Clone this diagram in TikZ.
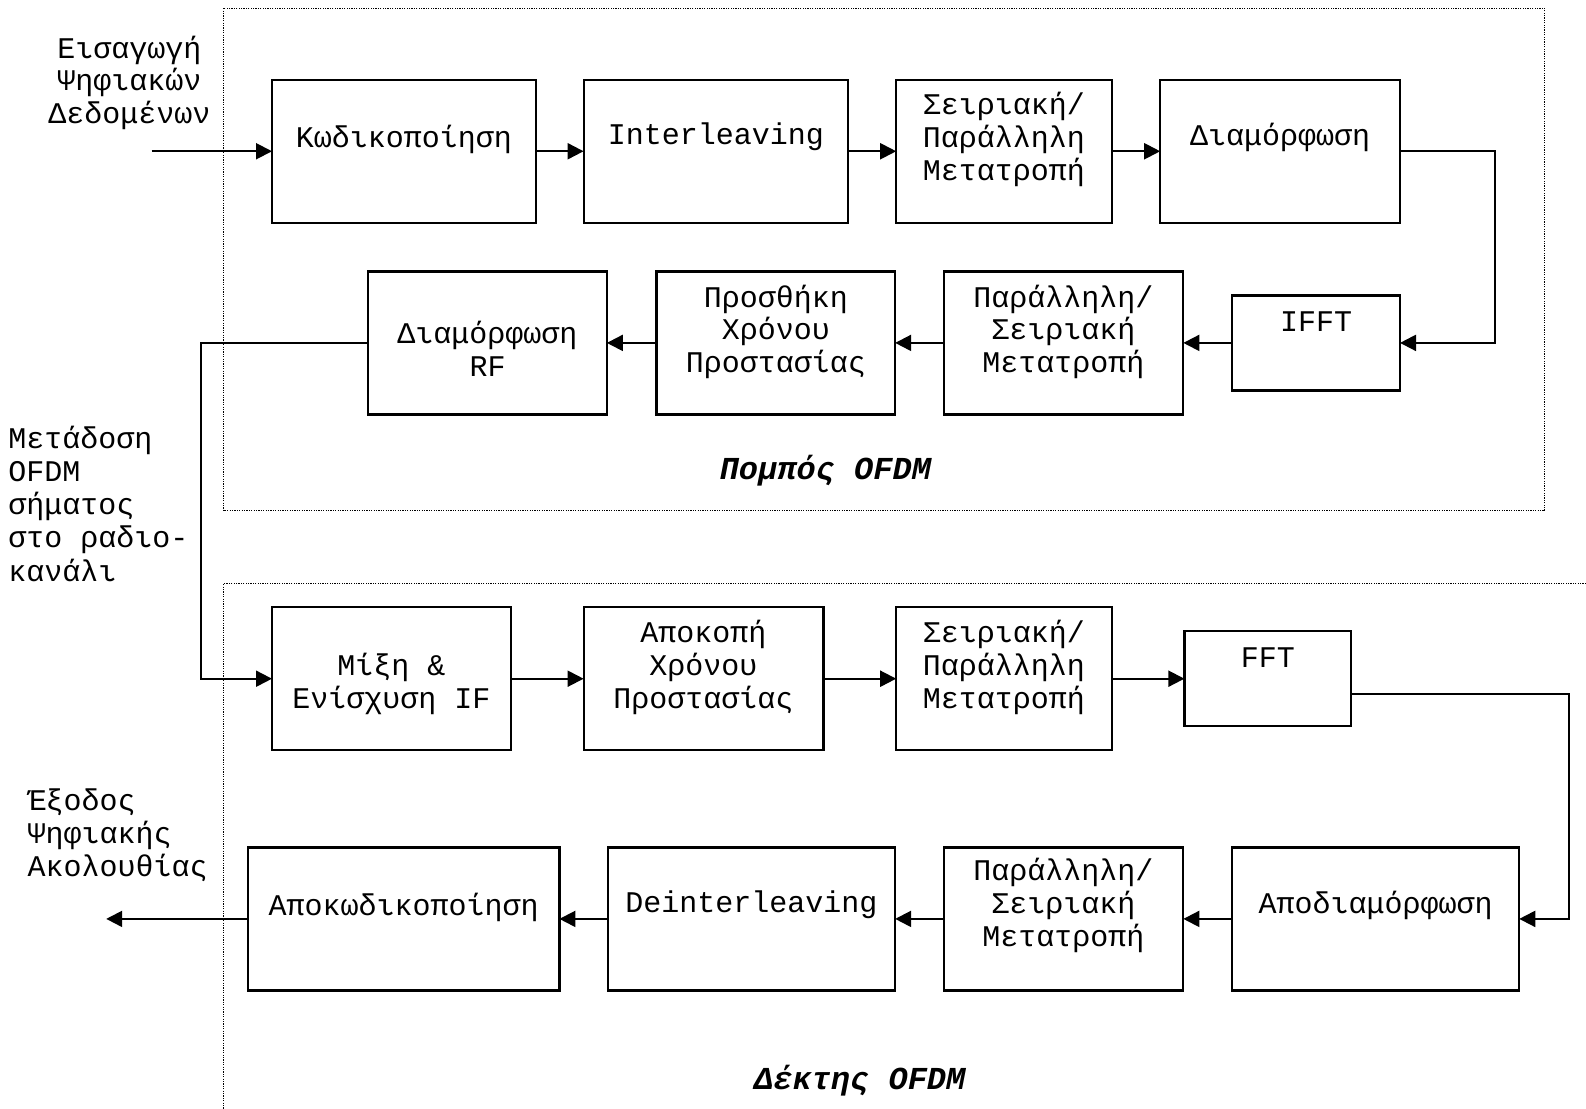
\documentclass[tikz,border=0pt]{standalone}
\usepackage{fontspec}
\setmainfont{Liberation Mono}
\usetikzlibrary{arrows.meta}
\begin{document}
\begin{tikzpicture}[x=0.5pt,y=-0.5pt,
  blk/.style={draw, line width=1.1pt, inner sep=0pt, outer sep=0pt, minimum height=71.5pt},
  sblk/.style={draw, line width=1.1pt, inner sep=0pt, outer sep=0pt, minimum height=47.5pt},
  txt/.style={inner sep=0pt, align=center, font=\fontsize{15pt}{16.4pt}\selectfont},
  ltxt/.style={inner sep=0pt, align=left, anchor=west, font=\fontsize{15pt}{16.6pt}\selectfont},
  ttl/.style={inner sep=0pt, font=\fontsize{16pt}{18pt}\selectfont\bfseries\itshape},
  arr/.style={line width=1pt, -{Triangle[length=8pt,width=8pt]}},
  frame/.style={line width=0.6pt, dash pattern=on 0.6pt off 0.6pt}]
\useasboundingbox (0,0) rectangle (1586,1109);

% frames
\draw[frame] (223.5,8.1) rectangle (1544.5,510.8);
\draw[frame] (1586,583.6) -- (223.5,583.6) -- (223.5,1109);

% row 1
\node[blk, minimum width=132pt] (b1) at (404,151.25) {};
\node[blk, minimum width=132pt] (b2) at (715.6,151.25) {};
\node[blk, minimum width=107.7pt] (b3) at (1003.9,151.25) {};
\node[blk, minimum width=119.9pt] (b4) at (1280.1,151.25) {};
% row 2
\node[blk, minimum width=119.35pt] (b5) at (487.5,342.9) {};
\node[blk, minimum width=119.35pt] (b6) at (775.8,342.9) {};
\node[blk, minimum width=119.85pt] (b7) at (1063.5,342.9) {};
\node[sblk, minimum width=84pt] (b8) at (1316,342.9) {};
% row 3
\node[blk, minimum width=119.4pt] (b9) at (391.4,678.7) {};
\node[blk, minimum width=119.9pt] (b10) at (703.5,678.7) {};
\node[blk, minimum width=107.7pt] (b11) at (1003.9,678.7) {};
\node[sblk, minimum width=83.45pt] (b12) at (1267.85,678.7) {};
% row 4
\node[blk, minimum width=155.8pt] (b13) at (403.6,918.9) {};
\node[blk, minimum width=143.65pt] (b14) at (751.5,918.9) {};
\node[blk, minimum width=119.85pt] (b15) at (1063.5,918.9) {};
\node[blk, minimum width=143.65pt] (b16) at (1375.6,918.9) {};

% box texts
\node[txt] (t1) at (404,139.6) {Κωδικοποίηση};
\node[txt] (t2) at (716,137) {Interleaving};
\node[txt] (t3) at (1003.9,139.6) {Σειριακή/\\Παράλληλη\\Μετατροπή};
\node[txt] (t4) at (1280.1,137) {Διαμόρφωση};
\node[txt] (t5) at (487.5,349) {Διαμόρφωση\\RF};
\node[txt] (t6) at (775.8,331.8) {Προσθήκη\\Χρόνου\\Προστασίας};
\node[txt] (t7) at (1063.5,331.8) {Παράλληλη/\\Σειριακή\\Μετατροπή};
\node[txt] (t8) at (1316,321.7) {IFFT};
\node[txt] (t9) at (391.4,683.8) {Μίξη \&\\Ενίσχυση IF};
\node[txt] (t10) at (703.5,667.6) {Αποκοπή\\Χρόνου\\Προστασίας};
\node[txt] (t11) at (1003.9,667.6) {Σειριακή/\\Παράλληλη\\Μετατροπή};
\node[txt] (t12) at (1267.85,657.5) {FFT};
\node[txt] (t13) at (403.6,907.3) {Αποκωδικοποίηση};
\node[txt] (t14) at (751.5,904.3) {Deinterleaving};
\node[txt] (t15) at (1063.5,905.3) {Παράλληλη/\\Σειριακή\\Μετατροπή};
\node[txt] (t16) at (1375.6,905.3) {Αποδιαμόρφωση};

% outer labels
\node[txt] (lin) at (129.5,82.9) {Εισαγωγή\\Ψηφιακών\\Δεδομένων};
\node[ltxt] (ltx) at (8.1,503.7) {Μετάδοση\\OFDM\\σήματος\\στο ραδιο-\\κανάλι};
\node[ltxt] (lout) at (27.3,835.5) {Έξοδος\\Ψηφιακής\\Ακολουθίας};
\node[ttl] (tx) at (825.4,470.3) {Πομπός OFDM};
\node[ttl] (rx) at (859.8,1080.3) {Δέκτης OFDM};

% helper coordinates
\coordinate (in) at (151.7,151.25);
\coordinate (c1) at (1495,151.25);
\coordinate (c2) at (201.3,342.9);
\coordinate (c3) at (1568.8,693.9);
\coordinate (out) at (106.2,918.9);

% connectors
\draw[arr] (in) -- (b1.west);
\draw[arr] (b1.east) -- (b2.west);
\draw[arr] (b2.east) -- (b3.west);
\draw[arr] (b3.east) -- (b4.west);
\draw[arr] (b4.east) -- (c1) |- (b8.east);
\draw[arr] (b8.west) -- (b7.east);
\draw[arr] (b7.west) -- (b6.east);
\draw[arr] (b6.west) -- (b5.east);
\draw[arr] (b5.west) -- (c2) |- (b9.west);
\draw[arr] (b9.east) -- (b10.west);
\draw[arr] (b10.east) -- (b11.west);
\draw[arr] (b11.east) -- (b12.west);
\draw[arr] (b12.east |- c3) -- (c3) |- (b16.east);
\draw[arr] (b16.west) -- (b15.east);
\draw[arr] (b15.west) -- (b14.east);
\draw[arr] (b14.west) -- (b13.east);
\draw[arr] (b13.west) -- (out);
\end{tikzpicture}
\end{document}
